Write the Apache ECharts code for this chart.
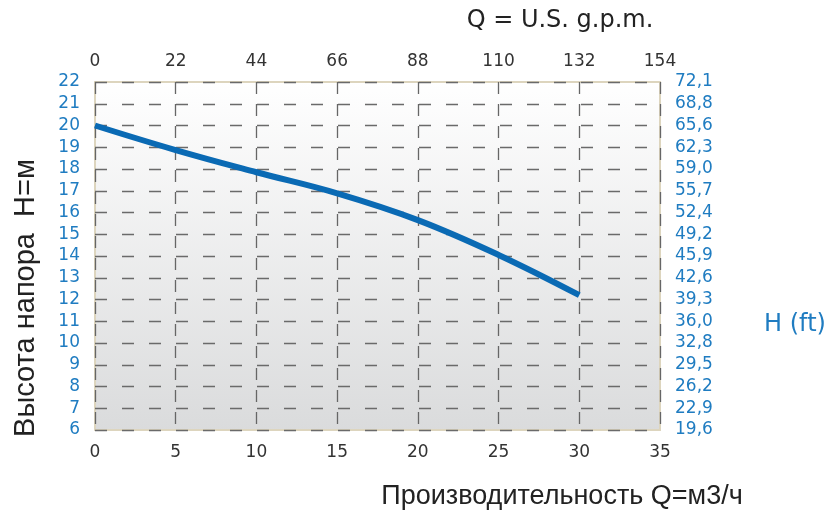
<!DOCTYPE html>
<html><head><meta charset="utf-8">
<script src="https://cdn.jsdelivr.net/npm/echarts@6/dist/echarts.min.js"></script>
<style>html,body{margin:0;padding:0;background:#fff}#c{width:835px;height:510px}</style>
</head><body><div id="c"></div>
<script>
const flowM3h = [0, 5, 10, 15, 20, 25, 30];
const headM = [20, 18.87, 17.85, 16.88, 15.65, 14.05, 12.2];
const gpmTicks = [0, 22, 44, 66, 88, 110, 132, 154];
const ftLabels = {6:'19,6',7:'22,9',8:'26,2',9:'29,5',10:'32,8',11:'36,0',12:'39,3',13:'42,6',14:'45,9',15:'49,2',16:'52,4',17:'55,7',18:'59,0',19:'62,3',20:'65,6',21:'68,8',22:'72,1'};

const chart = echarts.init(document.getElementById('c'), null, {renderer:'canvas'});
const F = '"DejaVu Sans", sans-serif';
const A = '"Liberation Sans", Arial, sans-serif';
const blue = '#1f7cc1';
chart.setOption({
  animation:false,
  grid:{left:95,right:175,top:82,bottom:80,show:true,borderColor:'#ddd5be',borderWidth:2,
    backgroundColor:new echarts.graphic.LinearGradient(0,0,0,1,[{offset:0,color:'#ffffff'},{offset:1,color:'#dadbdc'}])},
  xAxis:[
    {type:'value',min:0,max:35,interval:5,position:'bottom',
     axisLine:{show:false},axisTick:{show:false},
     axisLabel:{color:'#333',fontFamily:F,fontSize:17,margin:14},
     splitLine:{show:true,lineStyle:{type:[12,10],color:'#666',width:1.3}}},
    {type:'value',min:0,max:154,interval:22,position:'top',
     axisLine:{show:false},axisTick:{show:false},
     axisLabel:{color:'#333',fontFamily:F,fontSize:17,margin:12,formatter:v=>gpmTicks.includes(v)?String(v):''},
     splitLine:{show:false}}
  ],
  yAxis:[
    {type:'value',min:6,max:22,interval:1,position:'left',
     axisLine:{show:false},axisTick:{show:false},
     axisLabel:{color:blue,fontFamily:F,fontSize:17,margin:15},
     splitLine:{show:true,lineStyle:{type:[12,15],color:'#6a6a6a',width:1.3}}},
    {type:'value',min:6,max:22,interval:1,position:'right',
     axisLine:{show:false},axisTick:{show:false},
     axisLabel:{color:blue,fontFamily:F,fontSize:17,margin:15,formatter:v=>ftLabels[v]||''},
     splitLine:{show:false}}
  ],
  series:[{type:'line',xAxisIndex:0,yAxisIndex:0,data:flowM3h.map((x,i)=>[x,headM[i]]),
    smooth:0.4,symbol:'none',lineStyle:{color:'#0a6ab4',width:6,cap:'butt'}}],
  graphic:[
    {type:'text',x:560,y:21,style:{text:'Q = U.S. g.p.m.',font:'24px '+F,fill:'#222',align:'center',verticalAlign:'middle'}},
    {type:'text',x:562,y:497,style:{text:'Производительность Q=м3/ч',font:'27px '+A,fill:'#222',align:'center',verticalAlign:'middle'}},
    {type:'text',x:795,y:325,style:{text:'H (ft)',font:'24px '+F,fill:blue,align:'center',verticalAlign:'middle'}},
    {type:'text',x:26,y:298,rotation:Math.PI/2,style:{text:'Высота напора  H=м',font:'29px '+A,fill:'#222',align:'center',verticalAlign:'middle'}}
  ]
});
</script></body></html>
